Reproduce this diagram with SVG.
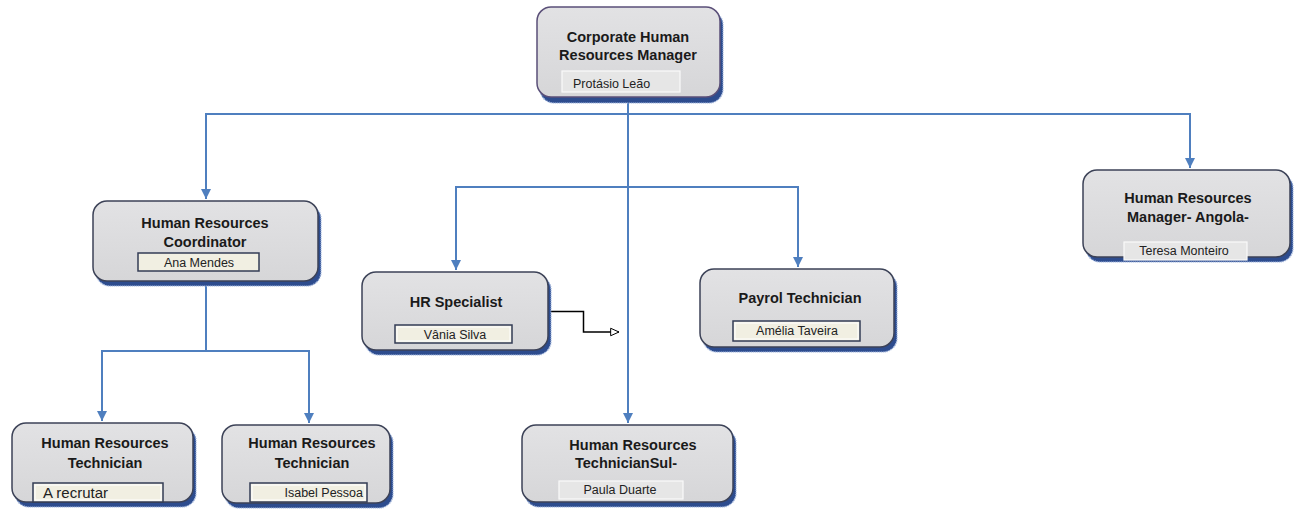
<svg xmlns="http://www.w3.org/2000/svg" width="1299" height="512" viewBox="0 0 1299 512">
<defs>
<marker id="arr" viewBox="0 0 10 10" refX="10" refY="5" markerWidth="5" markerHeight="5" orient="auto" markerUnits="strokeWidth">
<path d="M0,0 L10,5 L0,10 Z" fill="#4f7fbf"/>
</marker>
<marker id="open" viewBox="0 0 12 12" refX="11" refY="6" markerWidth="10" markerHeight="10" orient="auto" markerUnits="userSpaceOnUse">
<path d="M1,1.5 L11,6 L1,10.5 Z" fill="#fff" stroke="#000" stroke-width="1.2"/>
</marker>
<linearGradient id="g" x1="0" y1="0" x2="0" y2="1">
<stop offset="0" stop-color="#e2e2e4"/>
<stop offset="1" stop-color="#d6d6d8"/>
</linearGradient>
</defs>
<style>
.shadow{fill:#2d4c8e;stroke:#9db3dc;stroke-width:1.5;stroke-dasharray:1 1}
.box{fill:url(#g);stroke:#3c4257;stroke-width:1.5}
.top{stroke:#5a4f78}
.t{font-family:"Liberation Sans",Arial,sans-serif;font-weight:bold;font-size:14.5px;fill:#1a1a1a;text-anchor:middle}
.n{font-family:"Liberation Sans",Arial,sans-serif;font-size:12.5px;fill:#222;text-anchor:middle}
.in1{fill:#e6e6e6;stroke:#fafafa;stroke-width:1.2}
.in2{fill:#f1efe2;stroke:#333c55;stroke-width:1.5}
.in2b{fill:none;stroke:#ffffff;stroke-width:1}
.c{fill:none;stroke:#4f7fbf;stroke-width:2}
</style>
<g id="connectors">
<path class="c" d="M628,101 V423" marker-end="url(#arr)"/>
<path class="c" d="M206,114 H1190"/>
<path class="c" d="M206,113 V199" marker-end="url(#arr)"/>
<path class="c" d="M1190,113 V168" marker-end="url(#arr)"/>
<path class="c" d="M456,187 H798"/>
<path class="c" d="M456,186 V270" marker-end="url(#arr)"/>
<path class="c" d="M798,186 V267" marker-end="url(#arr)"/>
<path class="c" d="M206,281 V351"/>
<path class="c" d="M102,351 H309"/>
<path class="c" d="M102,350 V421" marker-end="url(#arr)"/>
<path class="c" d="M309,350 V423" marker-end="url(#arr)"/>
<path d="M548,311.5 H583.5 V332 H619" fill="none" stroke="#000" stroke-width="1.5" marker-end="url(#open)"/>
</g>
<g id="node-corporate">
<rect class="shadow" x="540" y="11" width="183" height="92" rx="14"/>
<rect class="box top" x="537" y="7" width="183" height="90" rx="14"/>
<text class="t" x="628" y="42">Corporate Human</text>
<text class="t" x="628" y="60">Resources Manager</text>
<rect class="in1" x="562" y="71" width="118" height="21"/>
<text class="n" x="573" y="88" style="text-anchor:start">Protásio Leão</text>
</g>
<g id="node-coordinator">
<rect class="shadow" x="96" y="205" width="225" height="81" rx="14"/>
<rect class="box" x="93" y="201" width="225" height="80" rx="14"/>
<text class="t" x="205" y="228">Human Resources</text>
<text class="t" x="205" y="247">Coordinator</text>
<rect class="in2" x="138" y="253" width="121" height="18"/>
<text class="n" x="199" y="267">Ana Mendes</text>
</g>
<g id="node-hr-specialist">
<rect class="shadow" x="365" y="276" width="186" height="79" rx="14"/>
<rect class="box" x="362" y="272" width="186" height="78" rx="14"/>
<text class="t" x="456" y="307">HR Specialist</text>
<rect class="in2" x="395" y="325" width="117" height="18"/>
<rect class="in2b" x="397" y="327" width="113" height="14"/>
<text class="n" x="455" y="339">Vânia  Silva</text>
</g>
<g id="node-payrol">
<rect class="shadow" x="703" y="273" width="194" height="79" rx="14"/>
<rect class="box" x="700" y="269" width="194" height="78" rx="14"/>
<text class="t" x="800" y="303">Payrol  Technician</text>
<rect class="in2" x="733" y="321" width="127" height="20"/>
<rect class="in2b" x="735" y="323" width="123" height="16"/>
<text class="n" x="797" y="335">Amélia Taveira</text>
</g>
<g id="node-angola">
<rect class="shadow" x="1086" y="174" width="207" height="88" rx="14"/>
<rect class="box" x="1083" y="170" width="207" height="87" rx="14"/>
<text class="t" x="1188" y="203">Human Resources</text>
<text class="t" x="1188" y="222">Manager- Angola-</text>
<rect class="in1" x="1124" y="242" width="123" height="18"/>
<text class="n" x="1184" y="255">Teresa Monteiro</text>
</g>
<g id="node-tech-left">
<rect class="shadow" x="15" y="427" width="181" height="80" rx="14"/>
<rect class="box" x="12" y="423" width="181" height="79" rx="14"/>
<text class="t" x="105" y="448">Human Resources</text>
<text class="t" x="105" y="468">Technician</text>
<rect class="in2" x="33" y="483" width="130" height="19"/>
<rect class="in2b" x="35" y="485" width="126" height="15"/>
<text class="n" x="43" y="498" style="text-anchor:start;font-size:15px">A recrutar</text>
</g>
<g id="node-tech-middle">
<rect class="shadow" x="225" y="429" width="168" height="79" rx="14"/>
<rect class="box" x="222" y="425" width="168" height="78" rx="14"/>
<text class="t" x="312" y="448">Human Resources</text>
<text class="t" x="312" y="468">Technician</text>
<rect class="in2" x="250" y="483" width="117" height="19"/>
<rect class="in2b" x="252" y="485" width="113" height="15"/>
<text class="n" x="363" y="497" style="text-anchor:end">Isabel Pessoa</text>
</g>
<g id="node-tech-sul">
<rect class="shadow" x="525" y="429" width="211" height="78" rx="14"/>
<rect class="box" x="522" y="425" width="211" height="77" rx="14"/>
<text class="t" x="633" y="450">Human Resources</text>
<text class="t" x="575" y="468" style="text-anchor:start">TechnicianSul-</text>
<rect class="in1" x="559" y="481" width="124" height="18"/>
<text class="n" x="620" y="494">Paula Duarte</text>
</g>
</svg>
